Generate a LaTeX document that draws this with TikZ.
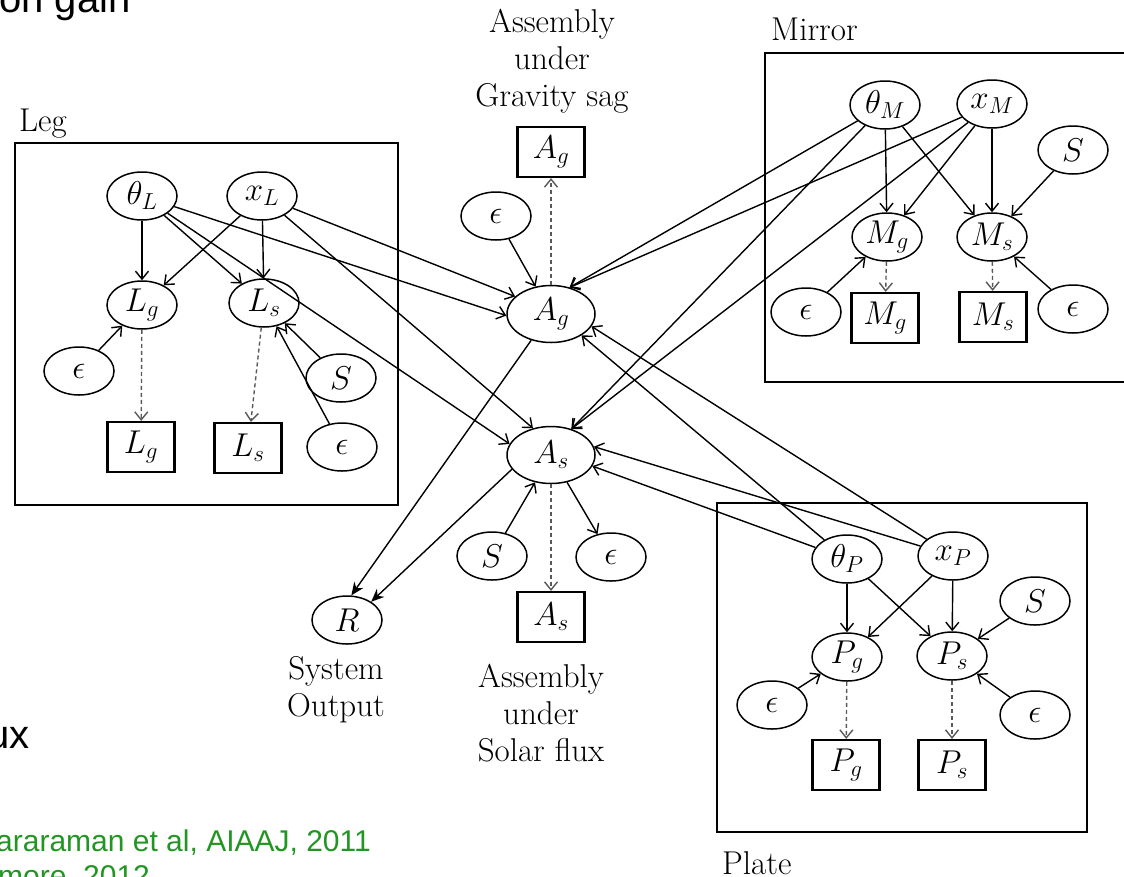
\RequirePackage{fix-cm}
\documentclass[tikz,border=0pt]{standalone}
\usepackage{fontspec}
\newfontfamily\slidefont{Liberation Sans}
\usetikzlibrary{shapes.geometric,arrows.meta}
\definecolor{slidegreen}{RGB}{34,150,34}
\begin{document}
\begin{tikzpicture}[x=1pt,y=-1pt,
  rv/.style={ellipse,draw,line width=1.5pt,minimum width=70pt,minimum height=48pt,inner sep=0pt,font=\fontsize{33}{38}\selectfont},
  bigrv/.style={rv,minimum width=88pt,minimum height=57pt},
  obs/.style={rectangle,draw,line width=2.2pt,minimum width=67pt,minimum height=50pt,inner sep=0pt,font=\fontsize{33}{38}\selectfont},
  grp/.style={draw,line width=2.2pt},
  lbl/.style={font=\fontsize{33}{37}\selectfont,inner sep=0pt},
  arr/.style={-{Straight Barb[length=8pt,width=13pt]},line width=1.4pt},
  boldarr/.style={-{Stealth[length=13pt,width=11pt]},line width=1.4pt},
  obsarr/.style={-{Straight Barb[length=8pt,width=13pt]},line width=1.4pt,dash pattern=on 4pt off 3pt,black!65},
  slide/.style={font=\slidefont\fontsize{40}{46}\selectfont,inner sep=0pt},
  ref/.style={font=\slidefont\fontsize{30}{35}\selectfont,text=slidegreen,inner sep=0pt,anchor=base west},
]
\useasboundingbox (0,0) rectangle (1124,876);

% slide fragments
\node[slide,anchor=base west] (t1) at (-1,12) {on gain};
\node[slide,anchor=base east] (t2) at (30,748) {ux};
\node[ref] (t3) at (-4,851) {araraman et al, AIAAJ, 2011};
\node[ref] (t4) at (-2,886) {more, 2012};

% group boxes
\draw[grp] (15,143) rectangle (398,505);
\draw[grp] (765,53) rectangle (1140,382);
\draw[grp] (717,503) rectangle (1087,832);
\node[lbl,anchor=base west] (legl) at (19,131) {Leg};
\node[lbl,anchor=base west] (mirl) at (771,40) {Mirror};
\node[lbl,anchor=base west] (platl) at (722,874) {Plate};

% Leg
\node[rv] (tL) at (142,196) {$\theta_L$};
\node[rv] (xL) at (262,196) {$x_L$};
\node[rv] (Lg) at (142,305) {$L_g$};
\node[rv] (Ls) at (264,303) {$L_s$};
\node[rv] (eL1) at (79,371) {$\epsilon$};
\node[rv] (SL) at (341,378) {$S$};
\node[rv] (eL2) at (342,447) {$\epsilon$};
\node[obs] (oLg) at (141,447) {$L_g$};
\node[obs] (oLs) at (248,448) {$L_s$};

% Center
\node[lbl,align=center,anchor=north] (tg) at (552,9) {Assembly\\under\\Gravity sag};
\node[obs] (oAg) at (551,152) {$A_g$};
\node[rv] (eAg) at (496,216) {$\epsilon$};
\node[bigrv] (Ag) at (551,314) {$A_g$};
\node[bigrv] (As) at (551,455) {$A_s$};
\node[rv] (SAs) at (492,556) {$S$};
\node[rv] (eAs) at (611,557) {$\epsilon$};
\node[obs] (oAs) at (551,617) {$A_s$};
\node[rv] (R) at (347,620) {$R$};
\node[lbl,align=center,anchor=north] (sysout) at (336,656) {System\\Output};
\node[lbl,align=center,anchor=north] (ts) at (541,664) {Assembly\\under\\Solar flux};

% Mirror
\node[rv] (tM) at (885,105) {$\theta_M$};
\node[rv] (xM) at (992,104) {$x_M$};
\node[rv] (SM) at (1073,150) {$S$};
\node[rv] (Mg) at (887,237) {$M_g$};
\node[rv] (Ms) at (992,237) {$M_s$};
\node[rv] (eM1) at (806,312) {$\epsilon$};
\node[rv] (eM2) at (1073,309) {$\epsilon$};
\node[obs] (oMg) at (885,318) {$M_g$};
\node[obs] (oMs) at (993,317) {$M_s$};

% Plate
\node[rv] (tP) at (847,559) {$\theta_P$};
\node[rv] (xP) at (953,556) {$x_P$};
\node[rv] (SP) at (1035,601) {$S$};
\node[rv] (Pg) at (847,657) {$P_g$};
\node[rv] (Ps) at (952,656) {$P_s$};
\node[rv] (eP1) at (772,705) {$\epsilon$};
\node[rv] (eP2) at (1035,715) {$\epsilon$};
\node[obs] (oPg) at (846,765) {$P_g$};
\node[obs] (oPs) at (952,765) {$P_s$};

% Leg edges
\draw[arr] (tL) -- (Lg);
\draw[arr] (xL) -- (Lg);
\draw[arr] (xL) -- (Ls);
\draw[arr] (tL) -- (Ls);
\draw[arr] (eL1) -- (Lg);
\draw[arr] (SL) -- (Ls);
\draw[arr] (eL2) -- (Ls);
\draw[obsarr] (Lg) -- (oLg);
\draw[obsarr] (Ls) -- (oLs);
\draw[arr] (tL) -- (Ag.182);
\draw[arr] (xL) -- (Ag.154);
\draw[arr] (tL) -- (As.165);
\draw[arr] (xL) -- (As.124);

% Center edges
\draw[arr] (eAg) -- (Ag);
\draw[obsarr] (Ag) -- (oAg);
\draw[boldarr] (Ag.-127) -- (R.80);
\draw[boldarr] (As.-160) -- (R.37);
\draw[arr] (SAs) -- (As);
\draw[arr] (As) -- (eAs);
\draw[obsarr] (As) -- (oAs);

% Mirror edges
\draw[arr] (tM) -- (Mg);
\draw[arr] (xM) -- (Mg);
\draw[arr] (tM) -- (Ms);
\draw[arr] (xM) -- (Ms);
\draw[arr] (SM) -- (Ms);
\draw[arr] (eM1) -- (Mg);
\draw[arr] (eM2) -- (Ms);
\draw[obsarr] (Mg) -- (oMg);
\draw[obsarr] (Ms) -- (oMs);
\draw[arr] (tM) -- (Ag.55);
\draw[arr] (xM) -- (Ag.55);
\draw[arr] (tM) -- (As.52);
\draw[arr] (xM) -- (As.52);

% Plate edges
\draw[arr] (tP) -- (Pg);
\draw[arr] (xP) -- (Pg);
\draw[arr] (tP) -- (Ps);
\draw[arr] (xP) -- (Ps);
\draw[arr] (SP) -- (Ps);
\draw[arr] (eP1) -- (Pg);
\draw[arr] (eP2) -- (Ps);
\draw[obsarr] (Pg) -- (oPg);
\draw[obsarr] (Ps) -- (oPs);
\draw[arr] (tP) -- (Ag.-35);
\draw[arr] (xP) -- (Ag.-17);
\draw[arr] (tP) -- (As.-15);
\draw[arr] (xP) -- (As.11);
\end{tikzpicture}
\end{document}
